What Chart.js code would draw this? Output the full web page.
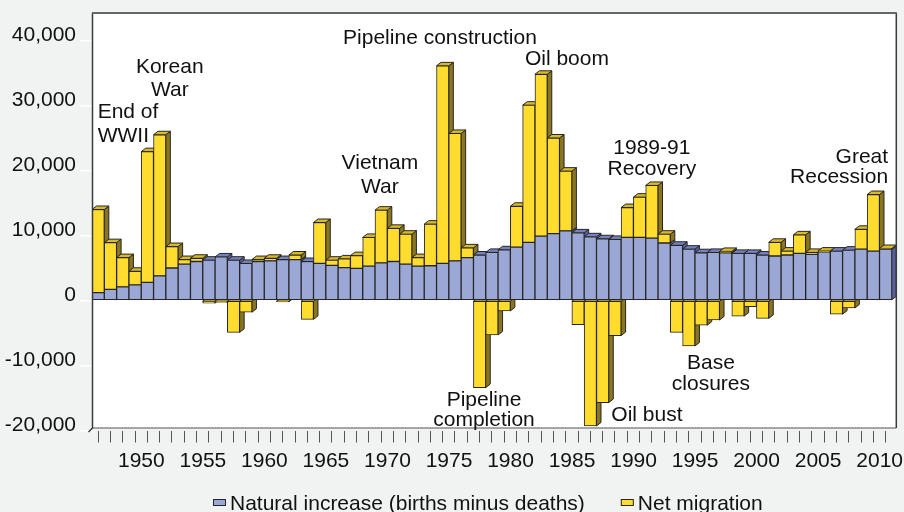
<!DOCTYPE html>
<html>
<head>
<meta charset="utf-8">
<script src="https://cdn.jsdelivr.net/npm/chart.js@4/dist/chart.umd.min.js"></script>
<style>
  html, body { margin: 0; padding: 0; background: #f1f3f2; }
  #wrap { width: 904px; height: 512px; }
</style>
</head>
<body>
<div id="wrap"><canvas id="chart" width="904" height="512"></canvas></div>
<script>
// Components of population change by year
const years = [
  1946, 1947, 1948, 1949, 1950, 1951, 1952, 1953, 1954, 1955,
  1956, 1957, 1958, 1959, 1960, 1961, 1962, 1963, 1964, 1965,
  1966, 1967, 1968, 1969, 1970, 1971, 1972, 1973, 1974, 1975,
  1976, 1977, 1978, 1979, 1980, 1981, 1982, 1983, 1984, 1985,
  1986, 1987, 1988, 1989, 1990, 1991, 1992, 1993, 1994, 1995,
  1996, 1997, 1998, 1999, 2000, 2001, 2002, 2003, 2004, 2005,
  2006, 2007, 2008, 2009, 2010
];

const naturalIncrease = [
  1200, 1700, 2100, 2400, 2800, 3800, 5000, 5600, 6000, 6200,
  6700, 6200, 5700, 6000, 6100, 6300, 6300, 6000, 5700, 5400,
  5050, 4950, 5300, 5800, 6000, 5600, 5300, 5350, 5700, 6100,
  6600, 7000, 7400, 7800, 8200, 8950, 9900, 10300, 10700, 10400,
  9800, 9500, 9400, 9700, 9700, 9600, 8850, 8500, 7900, 7350,
  7400, 7350, 7250, 7250, 7000, 6850, 7000, 7250, 7100, 7500,
  7600, 7750, 7900, 7600, 7900
];

const netMigration = [
  12800, 7200, 4500, 2100, 20100, 21700, 3300, 700, 500, -400,
  -300, -4900, -1800, 300, 400, -200, 700, -2900, 6300, 800,
  1350, 1950, 4400, 8100, 5100, 4600, 1300, 6400, 30400, 19600,
  1500, -13400, -5300, -1600, 6300, 21100, 24900, 14700, 9200, -3700,
  -19300, -15700, -5400, 4600, 6200, 8100, 1350, -4900, -7000, -3800,
  -3000, 200, -2400, -950, -2750, 2100, 600, 2850, 300, 100,
  -2100, -1150, 3050, 8700, 100
];

const yTickValues = [-20000, -10000, 0, 10000, 20000, 30000, 40000];
const seriesNames = ['Natural increase (births minus deaths)', 'Net migration'];

// Event notes, anchored at (category index, value) on the chart scales
const eventNotes = [
  { lines: ['End of', 'WWII'], at: [-0.04, 29200], align: 'left', gap: 23.3 },
  { lines: ['Korean', 'War'], at: [5.82, 36080], align: 'center', gap: 23 },
  { lines: ['Pipeline construction'], at: [27.78, 40690], align: 'center', gap: 0 },
  { lines: ['Vietnam', 'War'], at: [22.9, 21310], align: 'center', gap: 23.5 },
  { lines: ['Oil boom'], at: [38.1, 37380], align: 'center', gap: 0 },
  { lines: ['1989-91', 'Recovery'], at: [45.0, 23690], align: 'center', gap: 21 },
  { lines: ['Great', 'Recession'], at: [64.2, 22380], align: 'right', gap: 20 },
  { lines: ['Pipeline', 'completion'], at: [31.36, -15000], align: 'center', gap: 20 },
  { lines: ['Oil bust'], at: [44.6, -17460], align: 'center', gap: 0 },
  { lines: ['Base', 'closures'], at: [49.8, -9310], align: 'center', gap: 21 }
];

const FONT = '"Liberation Sans", Arial, sans-serif';
const colors = {
  front: ['#9ba7d5', '#ffdc2e'],
  top:   ['#7682be', '#d9b928'],
  side:  ['#56619a', '#8a7620'],
  edge:  '#262626'
};
const DEPTH = { dx: 4.5, dy: 3.5 };

// Page background, white plot wall
const backdrop = {
  id: 'backdrop',
  beforeDraw(chart) {
    const { ctx, chartArea: a } = chart;
    ctx.save();
    ctx.fillStyle = '#f1f3f2';
    ctx.fillRect(0, 0, chart.width, chart.height);
    ctx.fillStyle = '#ffffff';
    ctx.fillRect(a.left, a.top - 1.5, a.right + DEPTH.dx - a.left, a.bottom - 2.5 - (a.top - 1.5));
    ctx.restore();
  },
  afterDatasetsDraw(chart) {
    const { ctx, chartArea: a } = chart;
    const top = a.top - 1.5, bottom = a.bottom - 2.5, left = a.left + 0.5, right = a.right + DEPTH.dx;
    ctx.save();
    ctx.lineCap = 'butt';
    ctx.strokeStyle = '#8a8a8a'; ctx.lineWidth = 1.5;
    ctx.beginPath(); ctx.moveTo(left, bottom); ctx.lineTo(right, bottom); ctx.stroke();
    ctx.strokeStyle = '#3a3a3a'; ctx.lineWidth = 1.5;
    ctx.beginPath(); ctx.moveTo(right, top); ctx.lineTo(right, bottom); ctx.stroke();
    ctx.beginPath(); ctx.moveTo(left, top); ctx.lineTo(left, bottom); ctx.lineTo(left - 4, bottom + 4); ctx.stroke();
    ctx.strokeStyle = '#666666'; ctx.lineWidth = 2;
    ctx.beginPath(); ctx.moveTo(left - 0.5, top); ctx.lineTo(right + 0.5, top); ctx.stroke();
    ctx.restore();
  }
};

// Side and top faces of each column segment, drawn left to right before the fronts
const columnDepth = {
  id: 'columnDepth',
  beforeDatasetsDraw(chart) {
    const { ctx } = chart;
    const metas = chart.data.datasets.map((d, i) => chart.getDatasetMeta(i));
    const n = chart.data.labels.length;
    const { dx, dy } = DEPTH;
    ctx.save();
    ctx.lineWidth = 1;
    ctx.strokeStyle = colors.edge;
    ctx.lineJoin = 'miter';
    for (let i = 0; i < n; i++) {
      metas.forEach((meta, di) => {
        const el = meta.data[i];
        if (!el) return;
        const p = el.getProps(['x', 'y', 'base', 'width'], true);
        const l = p.x - p.width / 2, r = p.x + p.width / 2;
        const t = Math.min(p.y, p.base), b = Math.max(p.y, p.base);
        if (b - t < 0.5) return;
        ctx.fillStyle = colors.side[di];
        ctx.beginPath();
        ctx.moveTo(r, t); ctx.lineTo(r + dx, t - dy); ctx.lineTo(r + dx, b - dy); ctx.lineTo(r, b);
        ctx.closePath(); ctx.fill(); ctx.stroke();
        ctx.fillStyle = colors.top[di];
        ctx.beginPath();
        ctx.moveTo(l, t); ctx.lineTo(l + dx, t - dy); ctx.lineTo(r + dx, t - dy); ctx.lineTo(r, t);
        ctx.closePath(); ctx.fill(); ctx.stroke();
      });
    }
    ctx.restore();
  }
};

// Event notes
const notes = {
  id: 'notes',
  afterDatasetsDraw(chart) {
    const { ctx } = chart;
    const xs = chart.scales.x, ys = chart.scales.y;
    ctx.save();
    ctx.font = '21px ' + FONT;
    ctx.fillStyle = '#111111';
    ctx.textBaseline = 'alphabetic';
    eventNotes.forEach(nt => {
      const px = xs.getPixelForValue(nt.at[0]);
      const py = ys.getPixelForValue(nt.at[1]);
      ctx.textAlign = nt.align;
      nt.lines.forEach((line, k) => ctx.fillText(line, px, py + 7.5 + k * nt.gap));
    });
    ctx.restore();
  }
};

// Legend row under the axis
const legendRow = {
  id: 'legendRow',
  afterDraw(chart) {
    const { ctx } = chart;
    ctx.save();
    ctx.font = '21px ' + FONT;
    ctx.textBaseline = 'alphabetic';
    ctx.textAlign = 'left';
    let x = 213;
    const boxY = 499, boxW = 13, boxH = 7, baseY = 509.7;
    chart.data.datasets.forEach((ds, i) => {
      ctx.fillStyle = ds.backgroundColor;
      ctx.fillRect(x, boxY, boxW, boxH);
      ctx.strokeStyle = colors.edge; ctx.lineWidth = 1;
      ctx.strokeRect(x + 0.5, boxY + 0.5, boxW - 1, boxH - 1);
      ctx.fillStyle = '#111111';
      ctx.fillText(ds.label, x + boxW + 4, baseY);
      x += boxW + 4 + ctx.measureText(ds.label).width + 36;
    });
    ctx.restore();
  }
};

new Chart(document.getElementById('chart'), {
  type: 'bar',
  data: {
    labels: years,
    datasets: [
      { label: seriesNames[0], data: naturalIncrease, backgroundColor: colors.front[0] },
      { label: seriesNames[1], data: netMigration, backgroundColor: colors.front[1] }
    ]
  },
  options: {
    responsive: false,
    animation: false,
    devicePixelRatio: 1,
    layout: { padding: { left: 0, right: 12.2, top: 14.5, bottom: 0 } },
    datasets: {
      bar: {
        barPercentage: 1,
        categoryPercentage: 1,
        borderWidth: 1,
        borderColor: colors.edge,
        borderSkipped: false
      }
    },
    plugins: {
      legend: { display: false },
      tooltip: { enabled: false },
      title: { display: false }
    },
    scales: {
      x: {
        stacked: true,
        offset: true,
        border: { display: false },
        grid: {
          offset: false,
          drawOnChartArea: false,
          drawTicks: true,
          tickLength: 12,
          color: '#555555',
          lineWidth: 1
        },
        ticks: {
          autoSkip: false,
          maxRotation: 0,
          minRotation: 0,
          labelOffset: -6,
          padding: 6,
          color: '#111111',
          font: { family: FONT, size: 21 },
          callback: (v, i) => (years[i] % 5 === 0 ? String(years[i]) : '')
        },
        afterFit: s => { s.height = 81.5; s.paddingLeft = 0; s.paddingRight = 0; }
      },
      y: {
        stacked: true,
        min: -20000,
        max: 44000,
        border: { display: false },
        grid: {
          drawOnChartArea: false,
          drawTicks: true,
          tickLength: 12,
          color: '#ffffff',
          lineWidth: 1.5
        },
        ticks: {
          includeBounds: false,
          padding: 4,
          labelOffset: -5,
          color: '#111111',
          font: { family: FONT, size: 21 },
          callback: v => Number(v).toLocaleString('en-US')
        },
        afterBuildTicks: s => { s.ticks = yTickValues.map(v => ({ value: v })); },
        afterFit: s => { s.width = 92; s.paddingTop = 0; s.paddingBottom = 0; }
      }
    }
  },
  plugins: [backdrop, columnDepth, notes, legendRow]
});
</script>
</body>
</html>
